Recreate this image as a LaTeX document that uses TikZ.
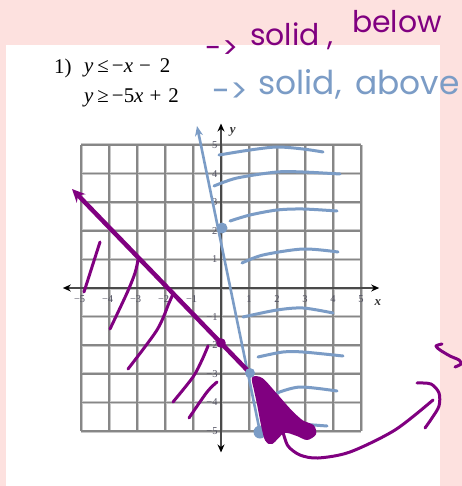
\documentclass[tikz,border=0pt]{standalone}
\usepackage{fontspec}
\setmainfont{Liberation Serif}
\newfontfamily\handfont{Poppins}
\usetikzlibrary{arrows.meta}
\definecolor{pinkbg}{HTML}{FDE1DF}
\definecolor{hpurple}{HTML}{800080}
\definecolor{hblue}{HTML}{7B9CC6}
\definecolor{gridgray}{HTML}{878787}
\definecolor{gridlite}{HTML}{C8C8C8}
\definecolor{axisgray}{HTML}{4A4A4A}
\definecolor{ticktext}{HTML}{505060}
\newcommand{\gapx}[1]{\hspace{#1bp}}
\begin{document}
\begin{tikzpicture}[x=1bp,y=-1bp,
  gridhalo/.style={gridlite,line width=3bp},
  gridline/.style={gridgray,line width=1.5bp},
  axisline/.style={axisgray,line width=2bp,{Stealth[length=8bp,width=7bp,black]}-{Stealth[length=8bp,width=7bp,black]}},
  ticklab/.style={text=ticktext,font=\fontsize{10.5}{11}\selectfont,inner sep=0pt},
  axislab/.style={text=black!80,font=\fontsize{13}{13}\selectfont\itshape\bfseries,inner sep=0pt},
  eqtext/.style={font=\fontsize{21}{21}\selectfont,inner sep=0pt,anchor=west},
  bluestroke/.style={hblue,line width=3bp,line cap=round,line join=round},
  purplestroke/.style={hpurple,line width=3bp,line cap=round,line join=round},
  phand/.style={font=\handfont\fontsize{30}{30}\selectfont,inner sep=0pt,text=hpurple},
  bhand/.style={font=\handfont\fontsize{33}{33}\selectfont,inner sep=0pt,text=hblue}
]
\useasboundingbox (0,0) rectangle (462,486);
\clip (0,0) rectangle (462,486);
\fill[pinkbg] (0,0) rectangle (462,486);
\fill[white] (6,45) rectangle (440,486);

% equations
\node[eqtext] (num) at (54,68) {1)};
\node[eqtext] (eq1) at (84,68) {\textit{y}\gapx{4}≤\gapx{3}−\textit{x}\gapx{6}−\gapx{9}2};
\node[eqtext] (eq2) at (84,98) {\textit{y}\gapx{4}≥\gapx{3}−5\textit{x}\gapx{6}+\gapx{7}2};

% handwritten notes
\node[phand] (p1) at (222,50) {->};
\node[phand] (p2) at (292,36) {solid ,};
\node[phand] (p3) at (397,22) {below};
\node[bhand] (b1) at (230,93) {->};
\node[bhand] (b2) at (300,84) {solid,};
\node[bhand,anchor=east] (b3) at (460,82) {above};

% grid
\begin{scope}[shift={(221,288)},x=28bp,y=28.6bp]
  \foreach \i in {-5,...,5} {
    \draw[gridhalo] (\i,-5) -- (\i,5);
    \draw[gridhalo] (-5,\i) -- (5,\i);
  }
  \foreach \i in {-5,...,5} {
    \draw[gridline] (\i,-5) -- (\i,5);
    \draw[gridline] (-5,\i) -- (5,\i);
  }
  \coordinate (xl) at (-5.65,0);
  \coordinate (xr) at (5.65,0);
  \coordinate (yb) at (0,-5.75);
  \coordinate (yt) at (0,5.75);
  \draw[axisline] (xl) -- (xr);
  \draw[axisline] (yb) -- (yt);
  \foreach \i in {1,...,5} {
    \node[ticklab] (xp\i) at (\i,-0.4) {\i};
    \node[ticklab] (xn\i) at (-\i-0.05,-0.4) {−\i};
    \node[ticklab] (yp\i) at (-0.22,\i) {\i};
    \node[ticklab] (yn\i) at (-0.32,-\i) {−\i};
  }
  \node[axislab] (ylab) at (0.42,5.45) {y};
  \node[axislab] (xlab) at (5.6,-0.5) {x};
\end{scope}

% blue hatching
\draw[bluestroke] plot[smooth] coordinates {(219,155) (250,150) (277,147) (303,149) (323,152)};
\draw[bluestroke] plot[smooth] coordinates {(214,186) (237,178) (277,172) (303,172) (340,174)};
\draw[bluestroke] plot[smooth] coordinates {(230,221) (250,215) (277,210) (303,209) (337,211)};
\draw[bluestroke] plot[smooth] coordinates {(242,263) (263,255) (303,249) (338,252)};
\draw[bluestroke] plot[smooth] coordinates {(243,317) (277,310) (303,308) (333,313)};
\draw[bluestroke] plot[smooth] coordinates {(258,357) (283,352) (303,352) (343,356)};
\draw[bluestroke] plot[smooth] coordinates {(277,393) (300,387) (337,391)};
\draw[bluestroke] plot[smooth] coordinates {(300,424) (327,426)};

% purple hatching
\draw[purplestroke] plot[smooth] coordinates {(100,242) (92,267) (84,292)};
\draw[purplestroke] plot[smooth] coordinates {(138,260) (135,273) (127,293) (110,329)};
\draw[purplestroke] plot[smooth] coordinates {(173,294) (169,303) (157,330) (128,369)};
\draw[purplestroke] plot[smooth] coordinates {(208,346) (202,360) (193,377) (173,402)};
\draw[purplestroke] plot[smooth] coordinates {(217,382) (207,392) (189,418)};

% boundary lines
\coordinate (btip) at (197,126);
\coordinate (bbot) at (260,432);
\coordinate (ptip) at (72,189);
\coordinate (cross) at (250,373);
\draw[hblue,line width=2.6bp,-{Stealth[length=10bp,width=8bp]}] (bbot) -- (btip);
\draw[hpurple,line width=4.5bp,-{Stealth[length=13bp,width=12bp]}] (cross) -- (ptip);

% points
\fill[hblue] (bbot) circle (6.5bp);
\fill[hpurple] (221,343) circle (4.8bp);
\fill[hblue] (222,228) circle (5.5bp);
\fill[hblue] (cross) circle (5bp);

% scribble
\fill[hpurple,draw=hpurple,line width=2bp,line join=round] plot[smooth cycle] coordinates {(253,378) (262,379) (275,393) (290,410) (302,421) (313,426) (315,434) (307,439) (297,435) (284,432) (272,443) (266,440) (262,425) (258,404) (255,390)};

% curved arrow
\draw[purplestroke] plot[smooth] coordinates {(283,432) (288,446) (300,455) (318,458) (350,452) (395,430) (433,400)};
\draw[purplestroke] plot[smooth] coordinates {(417,383) (431,384) (439,393) (439,406) (432,418) (425,428)};

% partial letter at right edge
\draw[purplestroke] plot[smooth] coordinates {(442,344) (436,346) (440,350) (450,356) (459,360) (461,364) (455,367)};
\end{tikzpicture}
\end{document}
